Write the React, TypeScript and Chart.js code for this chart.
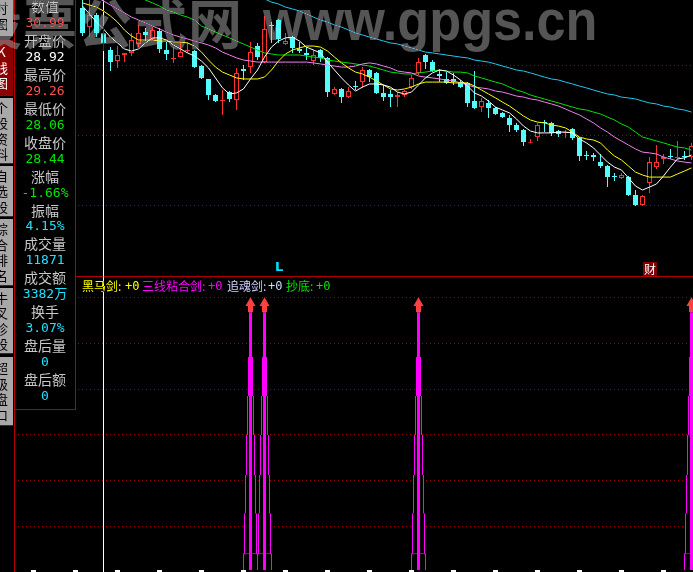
import React, { useEffect, useRef } from 'react';
import { Chart, registerables } from 'chart.js';

Chart.register(...registerables);

// ---------- data (day index 9 .. 96; days 0..8 sit behind the info panel) ----------
const FIRST_DAY = 9;

const opens = [
  30.13, 29.21, 29.79, 28.92, 28.11, 27.58, 27.87, 27.97, 28.40, 28.97,
  28.64, 29.02, 28.11, 27.68, 27.77, 28.06, 28.06, 27.34, 26.72, 25.95,
  25.66, 26.09, 25.71, 27.20, 27.29, 28.30, 27.53, 29.31, 29.55, 28.40,
  28.73, 28.16, 27.97, 27.58, 28.11, 27.73, 26.00, 26.24, 25.85, 26.38,
  26.57, 27.15, 27.01, 26.05, 26.00, 25.85, 25.95, 26.33, 27.01, 27.87,
  27.53, 26.96, 26.72, 26.72, 26.57, 26.53, 25.66, 25.37, 25.57, 25.33,
  25.09, 24.85, 24.51, 24.27, 23.64, 23.93, 24.65, 24.61, 24.22, 24.13,
  24.32, 23.89, 23.07, 23.07, 22.73, 22.54, 22.06, 21.97, 22.01, 21.15,
  20.67, 21.73, 22.49, 22.88, 23.02, 22.93, 23.02, 22.97,
];
const highs = [
  30.60, 30.60, 29.89, 29.26, 28.25, 28.30, 27.97, 28.93, 29.31, 29.17,
  29.21, 29.17, 28.49, 28.25, 28.49, 28.49, 28.11, 27.39, 26.72, 26.00,
  26.19, 26.14, 27.25, 27.39, 28.49, 28.45, 29.74, 29.45, 29.60, 28.93,
  28.78, 28.49, 28.25, 28.11, 28.16, 27.77, 26.33, 26.29, 26.33, 26.62,
  27.29, 27.20, 27.05, 26.43, 26.19, 26.09, 26.19, 26.91, 27.73, 27.92,
  27.63, 27.20, 27.05, 27.01, 26.67, 26.57, 27.10, 25.81, 25.71, 25.37,
  25.13, 24.99, 24.61, 24.32, 23.84, 24.61, 24.75, 24.65, 24.27, 24.27,
  24.37, 23.93, 23.26, 23.17, 23.12, 22.59, 22.21, 22.21, 22.06, 21.39,
  21.15, 22.97, 23.55, 23.12, 23.36, 23.74, 23.26, 23.65,
];
const lows = [
  28.78, 28.73, 28.73, 28.06, 27.10, 27.25, 27.53, 27.82, 28.25, 28.54,
  28.59, 27.97, 27.63, 27.49, 27.77, 27.97, 27.25, 26.72, 25.71, 25.61,
  24.99, 25.61, 25.23, 26.67, 27.01, 27.63, 27.49, 28.45, 28.45, 28.35,
  27.97, 27.97, 27.63, 27.39, 27.53, 25.85, 25.95, 25.57, 25.81, 26.19,
  26.29, 26.57, 26.00, 25.66, 25.37, 25.37, 25.85, 26.24, 26.91, 27.20,
  27.05, 26.57, 26.48, 26.43, 26.29, 25.37, 25.28, 25.13, 24.85, 24.99,
  24.85, 24.17, 24.17, 23.50, 23.64, 23.74, 24.17, 23.98, 23.93, 23.89,
  23.79, 22.78, 22.83, 22.78, 22.45, 21.53, 21.82, 21.92, 21.10, 20.62,
  20.62, 21.25, 22.40, 22.64, 22.88, 22.88, 22.83, 22.83,
];
const closes = [
  28.93, 29.79, 28.93, 28.44, 27.53, 27.87, 27.97, 28.59, 28.93, 28.83,
  29.07, 28.16, 27.92, 27.73, 28.01, 28.11, 27.29, 26.77, 25.95, 25.66,
  25.71, 25.76, 27.01, 27.10, 28.01, 27.77, 29.12, 29.26, 28.64, 28.54,
  28.21, 28.06, 27.87, 27.87, 27.73, 26.09, 26.24, 25.85, 26.14, 26.33,
  27.15, 26.81, 26.05, 25.85, 25.85, 25.95, 26.14, 26.77, 27.53, 27.53,
  27.10, 26.86, 26.53, 26.57, 26.33, 25.57, 25.33, 25.66, 25.33, 25.04,
  24.89, 24.51, 24.27, 23.69, 23.67, 24.51, 24.61, 24.13, 24.08, 24.17,
  23.89, 23.02, 23.02, 22.97, 22.54, 22.01, 22.01, 22.11, 21.15, 20.67,
  21.10, 22.73, 22.73, 22.97, 22.97, 22.97, 22.97, 23.50,
];

const ma5 = [
  30.22, 29.84, 29.45, 29.12, 28.73, 28.45, 28.16, 28.06, 28.16, 28.45,
  28.69, 28.69, 28.59, 28.35, 28.16, 27.97, 27.82, 27.58, 27.25, 26.77,
  26.29, 26.00, 26.05, 26.24, 26.72, 27.15, 27.77, 28.25, 28.54, 28.69,
  28.73, 28.54, 28.25, 28.11, 27.97, 27.53, 27.15, 26.77, 26.43, 26.14,
  26.33, 26.48, 26.48, 26.43, 26.33, 26.09, 26.00, 26.09, 26.43, 26.77,
  27.01, 27.15, 27.10, 26.91, 26.67, 26.38, 26.05, 25.90, 25.66, 25.37,
  25.23, 25.09, 24.80, 24.46, 24.22, 24.13, 24.13, 24.13, 24.17, 24.17,
  24.13, 23.84, 23.65, 23.41, 23.07, 22.73, 22.49, 22.35, 21.97, 21.58,
  21.39, 21.53, 21.68, 22.06, 22.49, 22.88, 22.93, 23.07,
];
const ma10 = [
  30.37, 30.27, 30.17, 29.98, 29.74, 29.45, 29.07, 28.78, 28.59, 28.59,
  28.59, 28.54, 28.54, 28.49, 28.49, 28.45, 28.30, 28.01, 27.63, 27.29,
  27.05, 26.91, 26.77, 26.72, 26.72, 26.72, 26.81, 27.15, 27.58, 27.92,
  28.11, 28.21, 28.30, 28.30, 28.25, 28.06, 27.77, 27.49, 27.25, 27.05,
  26.96, 26.81, 26.62, 26.43, 26.24, 26.19, 26.24, 26.33, 26.48, 26.57,
  26.57, 26.57, 26.57, 26.53, 26.53, 26.53, 26.38, 26.19, 26.00, 25.81,
  25.61, 25.42, 25.18, 24.94, 24.75, 24.65, 24.61, 24.51, 24.46, 24.37,
  24.17, 23.93, 23.84, 23.79, 23.65, 23.31, 23.02, 22.83, 22.54, 22.25,
  22.11, 22.01, 22.01, 22.01, 22.01, 22.16, 22.30, 22.45,
];
const ma20 = [
  30.99, 30.80, 30.65, 30.46, 30.27, 30.08, 29.89, 29.69, 29.55, 29.41,
  29.26, 29.12, 28.97, 28.83, 28.73, 28.64, 28.54, 28.45, 28.35, 28.21,
  28.01, 27.87, 27.73, 27.63, 27.58, 27.53, 27.53, 27.53, 27.53, 27.53,
  27.53, 27.53, 27.53, 27.49, 27.44, 27.39, 27.34, 27.29, 27.29, 27.34,
  27.44, 27.49, 27.44, 27.34, 27.25, 27.10, 27.05, 27.01, 26.86, 26.81,
  26.77, 26.72, 26.67, 26.62, 26.53, 26.43, 26.33, 26.29, 26.24, 26.14,
  26.09, 26.00, 25.90, 25.85, 25.76, 25.71, 25.61, 25.52, 25.42, 25.28,
  25.13, 24.99, 24.80, 24.61, 24.37, 24.17, 23.93, 23.74, 23.55, 23.36,
  23.21, 23.17, 23.12, 22.97, 22.88, 22.78, 22.73, 22.69,
];
const ma30 = [
  null, null, null, null, null, null, null, 30.80, 30.65, 30.51,
  30.37, 30.22, 30.03, 29.93, 29.79, 29.69, 29.55, 29.26, 29.12, 28.97,
  28.83, 28.69, 28.54, 28.40, 28.25, 28.11, 27.97, 27.92, 27.87, 27.87,
  27.87, 27.87, 27.82, 27.77, 27.73, 27.63, 27.58, 27.53, 27.49, 27.44,
  27.39, 27.34, 27.25, 27.15, 27.05, 27.01, 26.96, 26.96, 27.01, 27.05,
  27.10, 27.15, 27.10, 27.05, 27.05, 27.01, 26.86, 26.77, 26.67, 26.57,
  26.48, 26.33, 26.19, 26.09, 25.95, 25.85, 25.76, 25.66, 25.57, 25.47,
  25.37, 25.28, 25.23, 25.13, 25.04, 24.89, 24.75, 24.56, 24.41, 24.17,
  23.93, 23.84, 23.74, 23.65, 23.55, 23.45, 23.41, 23.31,
];
const ma60 = [
  null, null, null, null, null, null, null, null, null, null,
  null, null, null, null, null, null, null, null, null, null,
  null, null, null, null, null, 30.65, 30.56, 30.41, 30.32, 30.17,
  30.08, 29.98, 29.84, 29.69, 29.55, 29.45, 29.31, 29.21, 29.07, 28.93,
  28.83, 28.73, 28.64, 28.54, 28.45, 28.40, 28.30, 28.21, 28.11, 28.01,
  27.97, 27.92, 27.87, 27.82, 27.77, 27.73, 27.63, 27.58, 27.53, 27.44,
  27.34, 27.25, 27.15, 27.10, 27.01, 26.91, 26.81, 26.72, 26.67, 26.57,
  26.48, 26.38, 26.29, 26.19, 26.09, 26.00, 25.95, 25.85, 25.81, 25.76,
  25.66, 25.57, 25.52, 25.42, 25.37, 25.28, 25.23, 25.13,
];

const priceGrid = [20.67, 24.03, 27.39];

// lower pane signal spikes
const signalDays = [33, 35, 57, 96];
const signalSteps = [5.67, 4.70, 3.85, 3.00, 2.13, 1.30, 0.43];
const arrowStem = [5.67, 5.85];
const arrowTip = 5.87;
const signalGrid = [1, 2, 3, 4, 5, 6];
const axisTickDays = [2, 8, 14, 20, 26, 32, 38, 44, 50, 56, 62, 68, 74, 80, 86, 92];

const infoLabels = ['数值', '开盘价', '最高价', '最低价', '收盘价', '涨幅', '振幅', '成交量', '成交额', '换手', '盘后量', '盘后额'];
const infoValues = ['30.99', '28.92', '29.26', '28.06', '28.44', '-1.66%', '4.15%', '11871', '3382万', '3.07%', '0', '0'];

const legendNames = ['黑马剑:', '三线粘合剑:', '追魂剑:', '抄底:'];
const legendValues = ['+0', '+0', '+0', '+0'];

const sideTabs = ['分时图', 'K线图', '个股资料', '自选股', '综合排名', '牛叉诊股', '超级盘口'];

// ---------- styles ----------
const CYAN = '#54fcfc';
const RED = '#ff3232';
const MAG = '#ff00ff';
const GRID = '#a00000';
const FRAME = '#b00000';
const infoValueColors = ['#ff5050', '#ffffff', '#ff5050', '#00e600', '#00e600', '#00e600', '#1ee0ff', '#1ee0ff', '#1ee0ff', '#1ee0ff', '#1ee0ff', '#1ee0ff'];
const legendNameColors = ['#ffff00', '#ff00ff', '#d0d0ff', '#00e600'];
const legendValueColors = ['#ffff00', '#ff00ff', '#c8d8ff', '#00e600'];
const legendNameLeft = [82, 142, 227, 286];
const legendValueLeft = [125, 208, 268, 316];
const stepWidths = [3, 5, 7, 9, 11, 13, 15];
const tabBoxes = [
  { top: -20, height: 57 }, { top: 40, height: 56 }, { top: 98, height: 66 }, { top: 166, height: 51 },
  { top: 219, height: 67 }, { top: 288, height: 66 }, { top: 357, height: 69 },
];

const X_MIN = -0.7857;
const X_MAX = 96.2143;
const P_MAX = 30.51;
const P_MIN = 17.262;
const S_MIN = 0.065;
const S_MAX = 6.435;

const days = opens.map((_, k) => FIRST_DAY + k);
const toPoints = (arr: (number | null)[]) =>
  arr.map((v, k) => (v == null ? null : { x: FIRST_DAY + k, y: v })).filter((p) => p !== null);

export default function App() {
  const topRef = useRef<HTMLCanvasElement>(null);
  const botRef = useRef<HTMLCanvasElement>(null);

  useEffect(() => {
    const up = days.map((_, k) => closes[k] >= opens[k]);
    const lineDs = (label: string, arr: (number | null)[], color: string) => ({
      type: 'line' as const,
      label,
      data: toPoints(arr) as any,
      borderColor: color,
      borderWidth: 1,
      pointRadius: 0,
      tension: 0,
      order: 0,
    });

    const top = new Chart(topRef.current!, {
      type: 'bar',
      data: {
        datasets: [
          lineDs('MA5', ma5, '#ffffff'),
          lineDs('MA10', ma10, '#ffff00'),
          lineDs('MA20', ma20, '#f080f0'),
          lineDs('MA30', ma30, '#00e000'),
          lineDs('MA60', ma60, '#20c8f0'),
          {
            type: 'bar',
            label: 'body',
            data: days.map((d, k) => ({ x: d, y: [opens[k], closes[k]] })) as any,
            backgroundColor: up.map((u) => (u ? '#000000' : CYAN)),
            borderColor: up.map((u) => (u ? RED : CYAN)),
            borderWidth: 1,
            borderSkipped: false,
            barThickness: 5,
            minBarLength: 1,
            grouped: false,
            inflateAmount: 0,
            order: 1,
          } as any,
          {
            type: 'bar',
            label: 'wick',
            data: days.map((d, k) => ({ x: d, y: [lows[k], highs[k]] })) as any,
            backgroundColor: up.map((u) => (u ? RED : CYAN)),
            borderWidth: 0,
            barThickness: 1,
            minBarLength: 1,
            grouped: false,
            inflateAmount: 0,
            order: 2,
          } as any,
        ],
      },
      options: {
        animation: false,
        responsive: false,
        maintainAspectRatio: false,
        layout: { padding: 0, autoPadding: false },
        plugins: { legend: { display: false }, tooltip: { enabled: false } },
        scales: {
          x: { type: 'linear', min: X_MIN, max: X_MAX, display: false, offset: false, grid: { offset: false } },
          y: {
            type: 'linear',
            min: P_MIN,
            max: P_MAX,
            afterBuildTicks: (s: any) => { s.ticks = priceGrid.map((v) => ({ value: v })); },
            afterFit: (s: any) => { s.width = 0; },
            ticks: { display: false },
            grid: { color: GRID, lineWidth: 1, drawTicks: false },
            border: { display: false, dash: [1, 3] },
          },
        },
      } as any,
    });

    // stepped outline: narrow/tall boxes first, wider/shorter black-filled boxes over them
    // (no top edge), then the solid centre bar, the arrow stem and the arrow head
    const stepSets = signalSteps.map((lv, k) => ({
      type: 'bar' as const,
      label: 'step' + k,
      data: signalDays.map((d) => ({ x: d, y: k === 0 ? lv : [-1, lv] })) as any,
      backgroundColor: k === 0 ? MAG : '#000000',
      borderColor: MAG,
      borderWidth: k === 0 ? 0 : 1,
      borderSkipped: k === 0 ? 'start' : 'top',
      barThickness: stepWidths[k],
      grouped: false,
      inflateAmount: 0,
      order: k === 0 ? 2 : 10 - k,
    }));

    const bot = new Chart(botRef.current!, {
      type: 'bar',
      data: {
        datasets: [
          ...(stepSets as any[]),
          {
            type: 'bar',
            label: 'stem',
            data: signalDays.map((d) => ({ x: d, y: arrowStem })) as any,
            backgroundColor: '#ff4040',
            borderWidth: 0,
            barThickness: 5,
            grouped: false,
            inflateAmount: 0,
            order: 1,
          } as any,
          {
            type: 'line',
            label: 'arrow',
            data: signalDays.map((d) => ({ x: d, y: arrowTip })) as any,
            showLine: false,
            pointStyle: 'triangle',
            pointRadius: 5.8,
            pointBackgroundColor: '#ff4040',
            pointBorderWidth: 0,
            order: 0,
          } as any,
        ],
      },
      options: {
        animation: false,
        responsive: false,
        maintainAspectRatio: false,
        layout: { padding: 0, autoPadding: false },
        plugins: { legend: { display: false }, tooltip: { enabled: false } },
        scales: {
          x: {
            type: 'linear',
            min: X_MIN,
            max: X_MAX,
            position: 'bottom',
            offset: false,
            afterBuildTicks: (s: any) => { s.ticks = axisTickDays.map((v) => ({ value: v })); },
            afterFit: (s: any) => { s.height = 2; },
            ticks: { display: false },
            grid: { drawOnChartArea: false, drawTicks: true, tickLength: 2, tickWidth: 5, tickColor: '#ffffff', offset: false },
            border: { display: false },
          },
          y: {
            type: 'linear',
            min: S_MIN,
            max: S_MAX,
            afterBuildTicks: (s: any) => { s.ticks = signalGrid.map((v) => ({ value: v })); },
            afterFit: (s: any) => { s.width = 0; },
            ticks: { display: false },
            grid: { color: GRID, lineWidth: 1, drawTicks: false },
            border: { display: false, dash: [1, 3] },
          },
        },
      } as any,
    });

    return () => { top.destroy(); bot.destroy(); };
  }, []);

  const abs = (s: React.CSSProperties): React.CSSProperties => ({ position: 'absolute', ...s });
  const lineGap = 16.96;

  return (
    <div style={{ position: 'fixed', left: 0, top: 0, width: 693, height: 572, background: '#000', overflow: 'hidden', fontFamily: '"Noto Sans CJK SC", sans-serif' }}>
      <canvas ref={topRef} width={679} height={276} style={abs({ left: 14, top: 0, width: 679, height: 276, zIndex: 1 })} />
      <canvas ref={botRef} width={679} height={295} style={abs({ left: 14, top: 277, width: 679, height: 295, zIndex: 1 })} />

      {/* frame lines */}
      <div style={abs({ left: 14, top: 0, width: 1, height: 572, background: FRAME, zIndex: 2 })} />
      <div style={abs({ left: 14, top: 276, width: 679, height: 1, background: FRAME, zIndex: 2 })} />

      {/* markers */}
      <div style={abs({ left: 275, top: 259, fontFamily: '"DejaVu Sans", sans-serif', fontWeight: 'bold', fontSize: 13, lineHeight: '16px', color: '#00e0ff', zIndex: 2 })}>L</div>
      <div style={abs({ left: 643, top: 262, width: 14, height: 14, background: '#800000', color: '#fff', fontSize: 12, lineHeight: '14px', textAlign: 'center', zIndex: 2 })}>财</div>

      {/* legend */}
      {legendNames.map((n, k) => (
        <div key={'ln' + k} style={abs({ left: legendNameLeft[k], top: 278, fontSize: 12, lineHeight: '16px', color: legendNameColors[k], zIndex: 2, whiteSpace: 'nowrap' })}>{n}</div>
      ))}
      {legendValues.map((v, k) => (
        <div key={'lv' + k} style={abs({ left: legendValueLeft[k], top: 278, fontFamily: '"DejaVu Sans Mono", monospace', fontSize: 12, lineHeight: '16px', color: legendValueColors[k], zIndex: 2 })}>{v}</div>
      ))}

      {/* info panel */}
      <div style={abs({ left: 14, top: 0, width: 62, height: 410, background: '#000', borderRight: '1px solid ' + FRAME, borderBottom: '1px solid ' + FRAME, borderLeft: '1px solid ' + FRAME, boxSizing: 'border-box', zIndex: 2 })}>
        {infoLabels.map((l, k) => (
          <React.Fragment key={'i' + k}>
            <div style={abs({ left: 0, width: 60, top: 6 + lineGap * 2 * k - 9, textAlign: 'center', fontSize: 14, lineHeight: '18px', color: '#c8c8c8', whiteSpace: 'nowrap' })}>{l}</div>
            <div style={abs({ left: 0, width: 60, top: 6 + lineGap * (2 * k + 1) - 9, textAlign: 'center', fontFamily: '"DejaVu Sans Mono", "Noto Sans CJK SC", monospace', fontSize: 13, lineHeight: '18px', color: infoValueColors[k], whiteSpace: 'nowrap' })}>{infoValues[k]}</div>
          </React.Fragment>
        ))}
      </div>

      {/* left tab strip */}
      <div style={abs({ left: 0, top: 0, width: 13, height: 572, zIndex: 2 })}>
        {sideTabs.map((t, k) => (
          <div key={'t' + k} style={abs({ left: 0, top: tabBoxes[k].top, width: 13, height: tabBoxes[k].height, background: k === 1 ? '#8c0000' : '#a8a8a8', borderBottom: '1px solid #303030', boxSizing: 'border-box', overflow: 'hidden', display: 'flex', flexDirection: 'column', justifyContent: 'center' })}>
            {t.split('').map((c, j) => (
              <div key={j} style={{ marginLeft: -5, width: 13, textAlign: 'center', fontSize: 13, lineHeight: '15.5px', height: 15.5, color: k === 1 ? '#ffffff' : '#000000' }}>{c}</div>
            ))}
          </div>
        ))}
      </div>

      {/* watermark */}
      <div style={abs({ left: -32, top: -8, fontSize: 54, fontWeight: 'bold', lineHeight: '60px', color: '#555555', letterSpacing: 1, whiteSpace: 'nowrap', mixBlendMode: 'lighten', zIndex: 3 })}>股票公式网</div>
      <div style={abs({ left: 263, top: -9, fontFamily: '"Liberation Sans", Arial, sans-serif', fontSize: 58, fontWeight: 'bold', lineHeight: '58px', color: '#555555', whiteSpace: 'nowrap', transform: 'scaleX(0.9)', transformOrigin: 'left top', mixBlendMode: 'lighten', zIndex: 3 })}>www.gpgs.cn</div>

      {/* cursor */}
      <div style={abs({ left: 103, top: 0, width: 1, height: 572, background: '#ffffff', mixBlendMode: 'difference', zIndex: 4 })} />
    </div>
  );
}
